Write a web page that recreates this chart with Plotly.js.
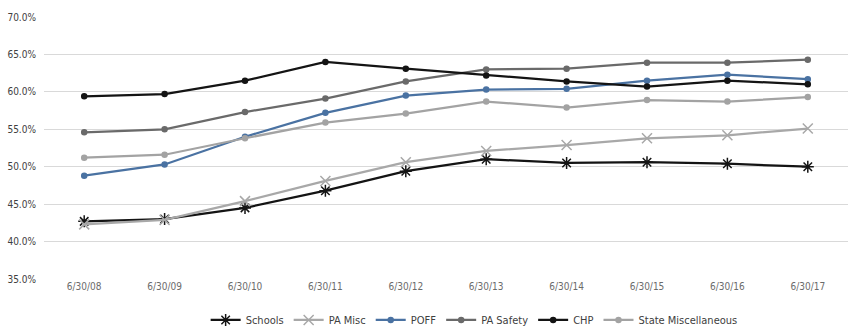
<!DOCTYPE html>
<html>
<head>
<meta charset="utf-8">
<script src="https://cdn.plot.ly/plotly-3.0.1.min.js"></script>
<style>html,body{margin:0;padding:0;background:#fff;}#chart{width:850px;height:335px;}</style>
</head>
<body>
<div id="chart"></div>
<script>
var dates = ["6/30/08","6/30/09","6/30/10","6/30/11","6/30/12","6/30/13","6/30/14","6/30/15","6/30/16","6/30/17"];
var schools = [42.7, 43.0, 44.5, 46.8, 49.4, 51.0, 50.5, 50.6, 50.4, 50.0];
var paMisc = [42.3, 42.9, 45.4, 48.1, 50.6, 52.1, 52.9, 53.8, 54.2, 55.1];
var poff = [48.8, 50.3, 54.0, 57.2, 59.5, 60.3, 60.4, 61.5, 62.3, 61.7];
var paSafety = [54.6, 55.0, 57.3, 59.1, 61.4, 63.0, 63.1, 63.9, 63.9, 64.3];
var chp = [59.4, 59.7, 61.5, 64.0, 63.1, 62.2, 61.4, 60.7, 61.5, 61.0];
var stateMisc = [51.2, 51.6, 53.8, 55.9, 57.1, 58.7, 57.9, 58.9, 58.7, 59.3];
var yTicks = [35, 40, 45, 50, 55, 60, 65, 70];

function tr(name, y, color, symbol, msize, mcolor, lw) {
  return {
    type: 'scatter', mode: 'lines+markers', name: name, x: dates, y: y,
    line: {color: color, width: lw || 2.25},
    marker: {symbol: symbol, size: msize, color: mcolor || color, line: {color: mcolor || color, width: 1.5}}
  };
}
var data = [
  tr('Schools', schools, '#141414', 'asterisk-open', 10, '#141414'),
  tr('PA Misc', paMisc, '#a8a8a8', 'x-thin-open', 10, '#a8a8a8'),
  tr('POFF', poff, '#4a72a2', 'circle', 5),
  tr('PA Safety', paSafety, '#6a6a6a', 'circle', 5),
  tr('CHP', chp, '#141414', 'circle', 5),
  tr('State Miscellaneous', stateMisc, '#a3a3a3', 'circle', 5)
];
var font = 'Liberation Sans Narrow, DejaVu Sans Condensed, Arial Narrow, sans-serif';
var layout = {
  width: 850, height: 335,
  margin: {l: 44, r: 2, t: 17, b: 55},
  paper_bgcolor: '#ffffff', plot_bgcolor: '#ffffff',
  font: {family: font, size: 11, color: '#595959'},
  showlegend: true,
  legend: {orientation: 'h', x: 0.535, xanchor: 'center', y: -0.152, yanchor: 'middle',
           font: {family: font, size: 11, color: '#404040'}, itemwidth: 30, tracegroupgap: 0},
  xaxis: {type: 'category', range: [-0.5, 9.5], showgrid: false, zeroline: false,
          showline: false, ticks: '', tickfont: {size: 10, color: '#6b6b6b'}, automargin: false},
  yaxis: {range: [35, 70], tickvals: yTicks, ticktext: yTicks.map(function(v){return v.toFixed(1)+'%';}),
          showgrid: true, gridcolor: '#d9d9d9', gridwidth: 1, zeroline: false, showline: false,
          ticks: '', ticklabelstandoff: 7, tickfont: {size: 10, color: '#404040'}, automargin: false}
};
Plotly.newPlot('chart', data, layout, {displayModeBar: false, staticPlot: true});
</script>
</body>
</html>
